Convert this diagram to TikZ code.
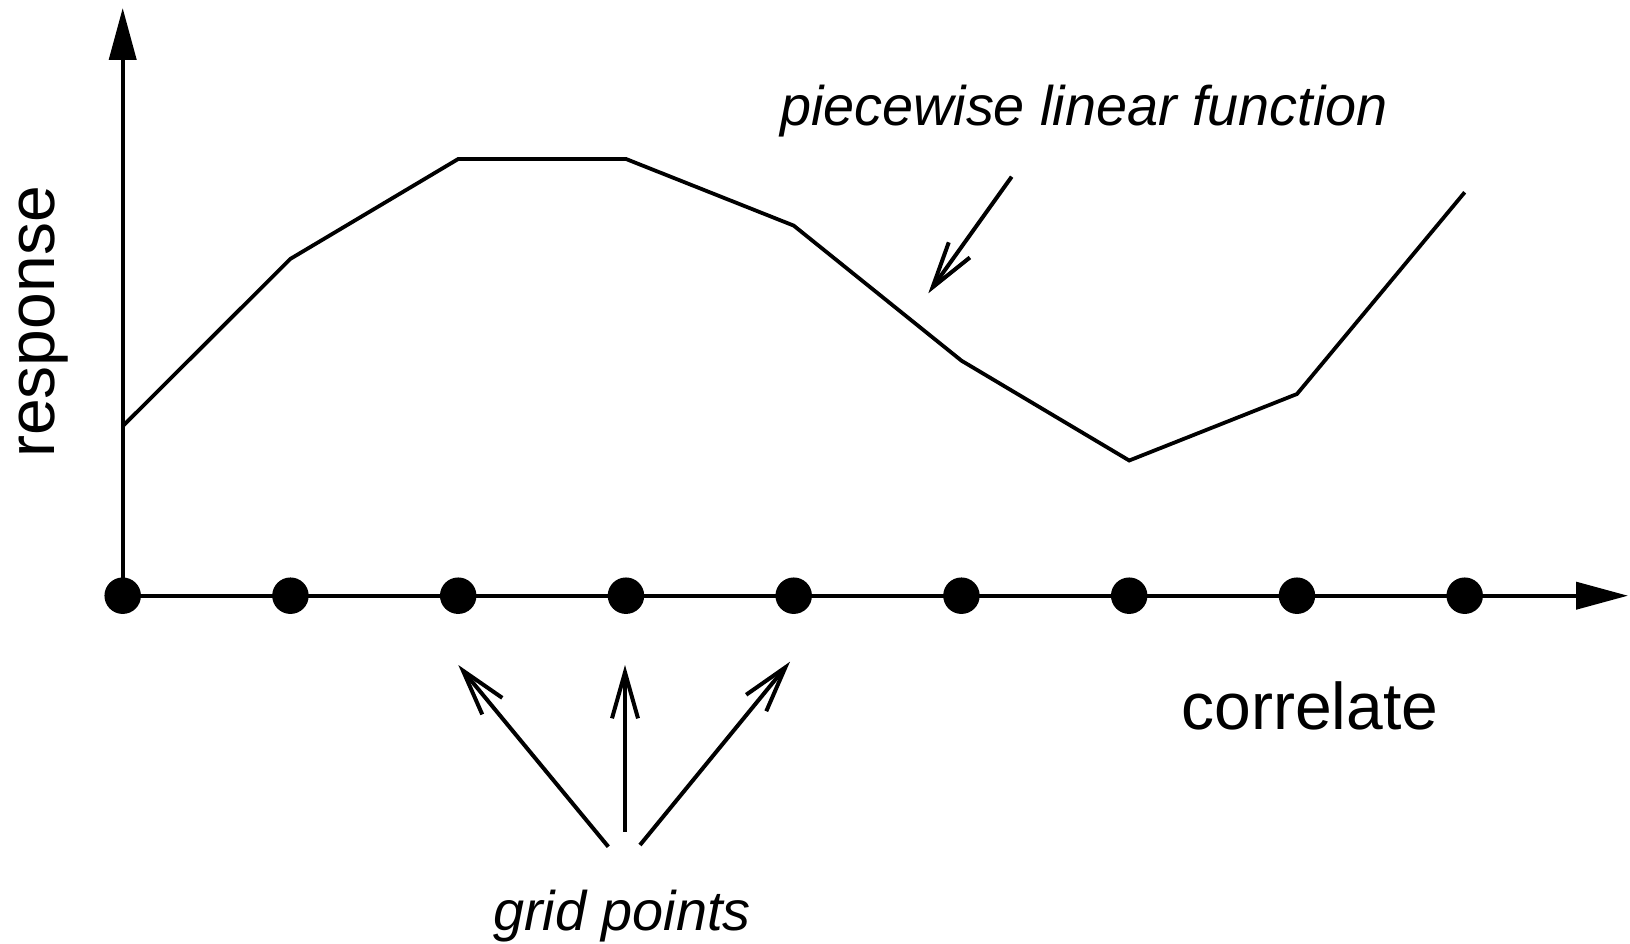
\documentclass[tikz,border=0pt]{standalone}
\usepackage{fontspec}
\setmainfont{Liberation Sans}
\usetikzlibrary{arrows.meta}
\tikzset{
  axis/.style={line width=4pt, -{Triangle[length=52pt,width=27pt]}},
  func/.style={line width=3.8pt, line join=miter},
  pointer/.style={line width=4pt, -{Straight Barb[length=46pt,width=26pt,line width=4pt]}},
  gdot/.style={circle, fill=black, inner sep=0pt, minimum size=36.5pt},
  ilabel/.style={font=\fontsize{55.8}{60}\selectfont\itshape, inner sep=0pt},
  ulabel/.style={font=\fontsize{66}{70}\selectfont, inner sep=0pt},
}
\begin{document}
\begin{tikzpicture}[x=1pt,y=-1pt]
\useasboundingbox (0,0) rectangle (1630,944);
% axes
\coordinate (O) at (122.7,595.7);
\coordinate (ytop) at (122.7,8);
\coordinate (xend) at (1628,595.7);
\draw[axis] (O) -- (ytop);
\draw[axis] (O) -- (xend);
% grid points
\foreach \i in {0,...,8} {
  \node[gdot] (g\i) at ({122.7+\i*167.75},595.7) {};
}
% function vertices
\coordinate (f0) at (122.7,426.2);
\coordinate (f1) at (290.5,258.8);
\coordinate (f2) at (458.2,159.0);
\coordinate (f3) at (626.0,159.0);
\coordinate (f4) at (793.7,225.6);
\coordinate (f5) at (961.5,360.7);
\coordinate (f6) at (1129.2,460.5);
\coordinate (f7) at (1297.0,394.0);
\coordinate (f8) at (1464.7,192.3);
\draw[func] (f0) -- (f1) -- (f2) -- (f3) -- (f4) -- (f5) -- (f6) -- (f7) -- (f8);
% labels
\node[ilabel] (plf) at (1084,111) {piecewise linear function};
\node[ulabel] (corr) at (1310,706) {correlate};
\node[ulabel, rotate=90] (resp) at (44,322) {response};
\node[ilabel] (grid) at (622,916) {grid points};
% pointer to the function
\coordinate (pfs) at (1011.7,176.7);
\coordinate (pft) at (928.3,293.3);
\draw[pointer] (pfs) -- (pft);
% pointers to grid points
\coordinate (gs1) at (608.3,846.7);
\coordinate (gt1) at (458.3,665);
\coordinate (gs2) at (625,831.7);
\coordinate (gt2) at (625,665);
\coordinate (gs3) at (640,845);
\coordinate (gt3) at (790,661.7);
\draw[pointer] (gs1) -- (gt1);
\draw[pointer] (gs2) -- (gt2);
\draw[pointer] (gs3) -- (gt3);
\end{tikzpicture}
\end{document}
